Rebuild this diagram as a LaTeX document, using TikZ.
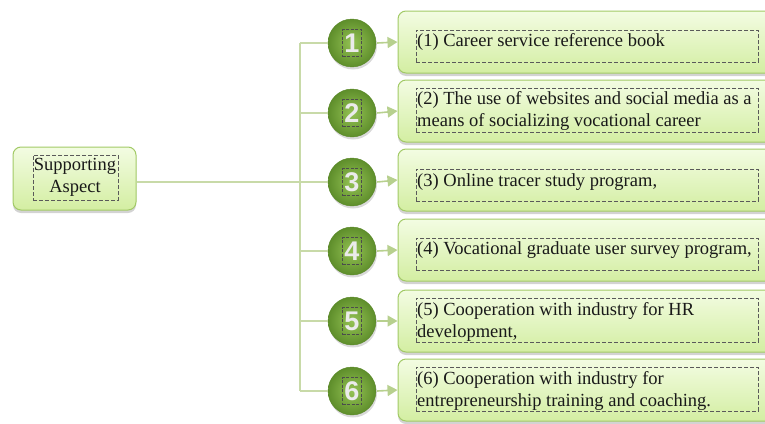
\documentclass[tikz,border=0pt]{standalone}
\usepackage{fontspec}
\setmainfont{Liberation Serif}
\newfontfamily\numfont{Liberation Sans}
\usetikzlibrary{arrows.meta,shadows}

\definecolor{linkgreen}{HTML}{C8DAA8}
\definecolor{tipgreen}{HTML}{B7D08E}
\definecolor{boxtop}{HTML}{F3FCE2}
\definecolor{boxbottom}{HTML}{D3EEA2}
\definecolor{boxedge}{HTML}{A2CA66}
\definecolor{ballin}{HTML}{94C254}
\definecolor{ballout}{HTML}{5E8E2B}
\definecolor{ballrim}{HTML}{5A8828}
\definecolor{frameline}{HTML}{5A5A5A}

\tikzset{
  itembox/.style={rectangle, rounded corners=8pt, draw=boxedge, line width=1pt,
    top color=boxtop, bottom color=boxbottom, minimum height=62pt,
    drop shadow={opacity=0.35, shadow xshift=0pt, shadow yshift=-3pt}},
  rootbox/.style={itembox, minimum width=123pt, minimum height=63pt},
  txtframe/.style={rectangle, draw=frameline, dashed, dash pattern=on 4pt off 2pt,
    line width=0.45pt, inner sep=0pt},
  itemtext/.style={font=\fontsize{18.5}{22}\selectfont, align=left, inner sep=0pt,
    text=black!90},
  ball/.style={circle, minimum size=48pt, inner sep=0pt, draw=ballrim, line width=0.4pt,
    inner color=ballin, outer color=ballout,
    drop shadow={opacity=0.3, shadow xshift=1pt, shadow yshift=-2.5pt}},
  numtext/.style={font=\numfont\bfseries\fontsize{27}{27}\selectfont, text=white!92!black,
    draw=black!70, dashed, dash pattern=on 3pt off 1.5pt, line width=0.45pt,
    minimum width=19pt, minimum height=27pt, inner sep=0pt},
  link/.style={draw=linkgreen, line width=1.6pt},
  pointer/.style={draw=tipgreen, line width=1.6pt, -{Triangle[length=10pt,width=11pt]}}
}

\begin{document}
\begin{tikzpicture}[x=1pt, y=-1pt]
\useasboundingbox (0,0) rectangle (765,423);
\clip (0,0) rectangle (765,423);

% root box
\node[rootbox] (root) at (74.5,178.5) {};
\node[txtframe, minimum width=85pt, minimum height=45pt] (rootframe) at (75.5,177.5) {};
\node[itemtext, align=center] (roottext) at (75,177) {Supporting\\Aspect};

% item boxes (their right side runs off the page)
\foreach \i/\y in {1/42, 2/111, 3/180, 4/250, 5/321, 6/390} {
  \node[itembox, minimum width=377pt] (b\i) at (586.5,\y) {};
}

% numbered balls
\foreach \i/\y in {1/43, 2/113, 3/182, 4/251, 5/321, 6/391} {
  \node[ball] (c\i) at (352,\y) {};
  \node[numtext] (n\i) at (c\i) {\i};
}

% tree connectors
\coordinate (spine) at (300,182);
\draw[link] (root.east |- c3) -- (c3.west);
\draw[link] (c1.west -| spine) -- (c6.west -| spine);
\foreach \i in {1,2,4,5,6} {
  \draw[link] (c\i.west -| spine) -- (c\i.west);
}

% arrows from balls to boxes
\foreach \i in {1,...,6} {
  \draw[pointer] (c\i.east) ++(1pt,0) -- (b\i.west);
}

% dashed text frames
\node[txtframe, minimum width=342pt, minimum height=32pt] (f1) at (587,46) {};
\node[txtframe, minimum width=342pt, minimum height=44pt] (f2) at (587,110) {};
\node[txtframe, minimum width=342pt, minimum height=32pt] (f3) at (587,185) {};
\node[txtframe, minimum width=342pt, minimum height=32pt] (f4) at (587,254) {};
\node[txtframe, minimum width=342pt, minimum height=44pt] (f5) at (587,320) {};
\node[txtframe, minimum width=342pt, minimum height=44pt] (f6) at (587,389) {};

% item texts
\node[itemtext, anchor=west] (t1) at (417,42) {(1) Career service reference book};
\node[itemtext, anchor=west] (t2) at (417,111) {(2) The use of websites and social media as a\\means of socializing vocational career};
\node[itemtext, anchor=west] (t3) at (417,182) {(3) Online tracer study program,};
\node[itemtext, anchor=west] (t4) at (417,250) {(4) Vocational graduate user survey program,};
\node[itemtext, anchor=west] (t5) at (417,322) {(5) Cooperation with industry for HR\\development,};
\node[itemtext, anchor=west] (t6) at (417,391) {(6) Cooperation with industry for\\entrepreneurship training and coaching.};
\end{tikzpicture}
\end{document}
